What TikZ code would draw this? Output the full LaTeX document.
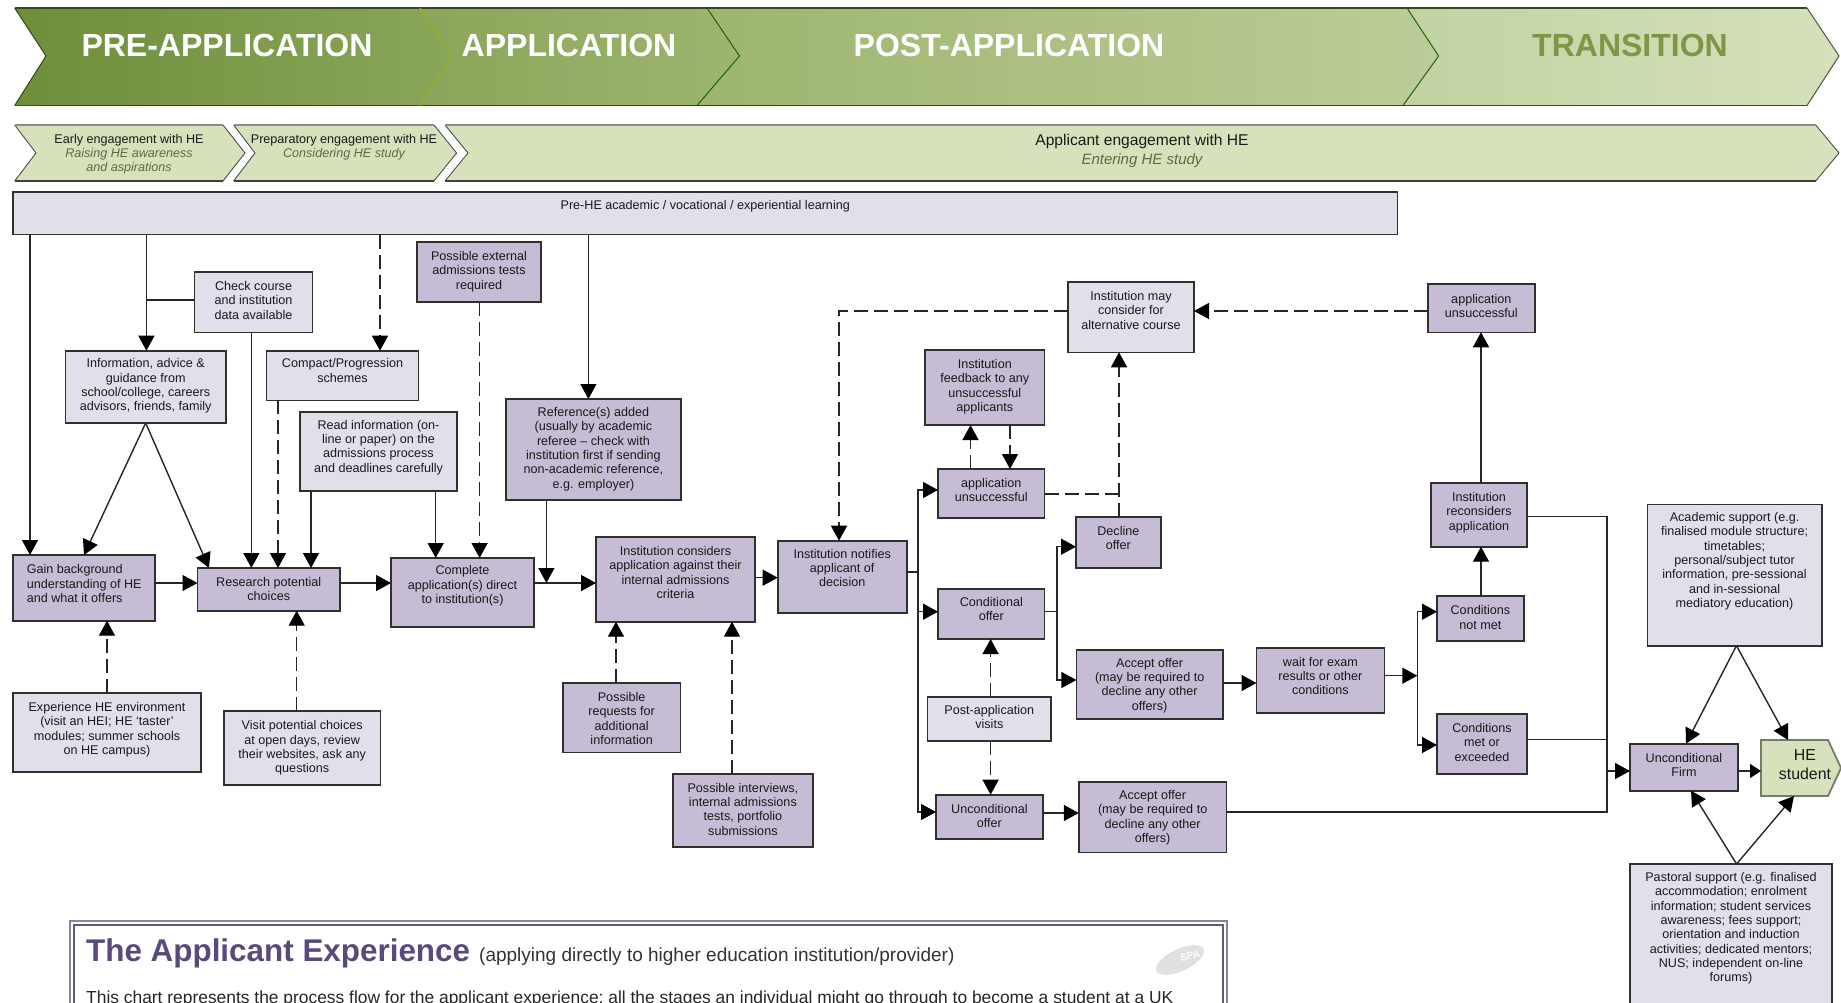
\documentclass[tikz,border=0pt]{standalone}
\usepackage{fontspec}
\setmainfont{Liberation Sans}
\usetikzlibrary{arrows.meta,shapes.geometric}
\definecolor{boxdark}{HTML}{C6BCD6}
\definecolor{boxlight}{HTML}{E2DFEB}
\definecolor{palegreen}{HTML}{D7E2BD}
\definecolor{edge}{HTML}{303030}
\definecolor{titlepurple}{HTML}{5A4A7C}
\definecolor{headgreen}{HTML}{7F9648}
\definecolor{subgreen}{HTML}{5C6B42}
\definecolor{gA}{HTML}{6E8E3A}\definecolor{gB}{HTML}{8AA65A}
\definecolor{gC}{HTML}{9DB56E}\definecolor{gD}{HTML}{BCCC98}
\definecolor{gE}{HTML}{C2D2A2}\definecolor{gF}{HTML}{D5E1BB}
\tikzset{
  x=1pt,y=-1pt,
  boxbase/.style={draw=edge,line width=1.6pt,inner sep=0pt,outer sep=0pt,anchor=north west,text=black!90},
  dk/.style={boxbase,fill=boxdark},
  lt/.style={boxbase,fill=boxlight},
  conn/.style={draw=black!85,line width=1.4pt},
  arr/.style={conn,-{Triangle[length=15pt,width=16pt,color=black]}},
  darr/.style={arr,dash pattern=on 14pt off 6pt},
  dline/.style={conn,dash pattern=on 14pt off 6pt},
  banner/.style={font=\fontsize{32}{34}\selectfont\bfseries,text=white,inner sep=0pt},
  subtxt/.style={font=\fontsize{12.6}{14.3}\selectfont,inner sep=0pt,text=black!90},
  subit/.style={subtxt,font=\fontsize{12.6}{14.3}\selectfont\itshape,text=subgreen},
  chev/.style={fill=palegreen,draw=none},
  chevtop/.style={draw=black!45,line width=1.6pt},
  chevbot/.style={draw=black!75,line width=1.6pt},
  chevside/.style={draw=black!70,line width=0.9pt},
}
\newcommand{\bx}[8]{%
  \pgfmathsetmacro{\bxw}{#5-#3}\pgfmathsetmacro{\bxh}{#6-#4}\pgfmathsetmacro{\bxg}{#7-#4-5.2}%
  \node[#2] (#1) at (#3,#4) {\parbox[c][\bxh pt][t]{\bxw pt}{\fontsize{12.6}{14.3}\selectfont\vspace*{\bxg pt}\centering #8}};}
\begin{document}
\begin{tikzpicture}
\clip (0,0) rectangle (1841,1003);
\fill[white] (0,0) rectangle (1841,1003);
% top banner
\path[left color=gE,right color=gF] (1407,8) -- (1807,8) -- (1839,56) -- (1807,105.5) -- (1403,105.5) -- (1438,56) -- cycle;
\path[left color=gC,right color=gD] (707,8) -- (1407,8) -- (1438.6,56) -- (1403,105.5) -- (697,105.5) -- (739,56) -- cycle;
\path[left color=gB,right color=gC] (420,8) -- (707,8) -- (739.5,56) -- (697,105.5) -- (420,105.5) -- (452,56) -- cycle;
\path[left color=gA,right color=gB] (14.7,8) -- (420,8) -- (452,56) -- (420,105.5) -- (14.7,105.5) -- (46,56) -- cycle;
\draw[chevtop,draw=black!50!gA] (14.7,8) -- (1807,8);
\draw[chevbot] (14.7,105.5) -- (1807,105.5);
\draw[draw=black!50!gA,line width=1pt] (14.7,8) -- (46,56) -- (14.7,105.5);
\draw[draw=black!60!gE,line width=1pt] (1807,8) -- (1839,56) -- (1807,105.5);
\draw[draw=gA!70!yellow,line width=1.2pt] (420,8) -- (452,56) -- (420,105.5);
\draw[draw=green!30!black!70!gA,line width=1pt] (707,8) -- (739.5,56) -- (697,105.5);
\draw[draw=green!30!black!70!gA,line width=1pt] (1407,8) -- (1438.6,56) -- (1403,105.5);
\node[banner] (tpre) at (227,45) {PRE-APPLICATION};
\node[banner] (tapp) at (569,45) {APPLICATION};
\node[banner] (tpost) at (1009,45) {POST-APPLICATION};
\node[banner,text=headgreen] (ttrans) at (1630,45) {TRANSITION};
% second row
\path[chev] (14.7,125) -- (223,125) -- (245,153) -- (223,181) -- (14.7,181) -- (36,153) -- cycle;
\path[chev] (233.6,125) -- (434,125) -- (456.6,153) -- (434,181) -- (233.6,181) -- (255,153) -- cycle;
\path[chev] (445,125) -- (1815.7,125) -- (1839,153) -- (1815.7,181) -- (445,181) -- (468,153) -- cycle;
\foreach \ax/\an/\bx/\bn in {14.7/36/223/245,233.6/255/434/456.6,445/468/1815.7/1839}{
  \draw[chevside] (\ax,125) -- (\an,153) -- (\ax,181);
  \draw[chevside] (\bx,125) -- (\bn,153) -- (\bx,181);
  \draw[chevtop] (\ax,125) -- (\bx,125);
  \draw[chevbot] (\ax,181) -- (\bx,181);
}
\node[subtxt] (e1) at (129,140.3) {Early engagement with HE};
\node[subit] (e2) at (129,154.5) {Raising HE awareness};
\node[subit] (e3) at (129,168.5) {and aspirations};
\node[subtxt] (p1) at (344,140.3) {Preparatory engagement with HE};
\node[subit] (p2) at (344,154.5) {Considering HE study};
\node[subtxt,font=\fontsize{15.6}{18}\selectfont] (a1) at (1142,141.5) {Applicant engagement with HE};
\node[subit,font=\fontsize{15}{18}\selectfont\itshape] (a2) at (1142,160.5) {Entering HE study};
% boxes
\bx{bar}{lt}{13}{192}{1397.5}{234.5}{205.6}{Pre-HE academic / vocational / experiential learning}
\bx{check}{lt}{194.6}{271.7}{312.5}{332.3}{286.7}{Check course\\and institution\\data available}
\bx{info}{lt}{65.4}{350.7}{226}{423}{364}{Information, advice \&\\guidance from\\school/college, careers\\advisors, friends, family}
\bx{compact}{lt}{266.4}{350.7}{418.6}{400.3}{364}{Compact/Progression\\schemes}
\bx{read}{lt}{300}{412}{457}{491}{425.3}{Read information (on-\\line or paper) on the\\admissions process\\and deadlines carefully}
\bx{ext}{dk}{417}{242}{541}{302}{256.7}{Possible external\\admissions tests\\required}
\bx{ref}{dk}{506}{399}{680.8}{500}{412.7}{Reference(s) added\\(usually by academic\\referee – check with\\institution first if sending\\non-academic reference,\\e.g. employer)}
\bx{gain}{dk}{13}{555}{155}{620.7}{570}{\raggedright\leftskip=13.8pt\relax Gain background\\understanding of HE\\and what it offers}
\bx{res}{dk}{197.5}{568}{340}{610.7}{582.7}{Research potential\\choices}
\bx{comp}{dk}{391}{558}{534}{627}{571}{Complete\\application(s) direct\\to institution(s)}
\bx{exper}{lt}{13}{692.7}{201}{772}{707.7}{Experience HE environment\\(visit an HEI; HE ‘taster’\\modules; summer schools\\on HE campus)}
\bx{visit}{lt}{223.8}{711}{380.6}{785}{726}{Visit potential choices\\at open days, review\\their websites, ask any\\questions}
\bx{reqs}{dk}{562.7}{683}{680.6}{752.3}{697.7}{Possible\\requests for\\additional\\information}
\bx{intv}{dk}{673}{773.7}{812.8}{846.7}{788.3}{Possible interviews,\\internal admissions\\tests, portfolio\\submissions}
\bx{cons}{dk}{596}{536.7}{755}{621.7}{551.7}{Institution considers\\application against their\\internal admissions\\criteria}
\bx{noti}{dk}{777.7}{540.7}{906.7}{613}{554.3}{Institution notifies\\applicant of\\decision}
\bx{may}{lt}{1068}{281.7}{1194}{352.3}{296.7}{Institution may\\consider for\\alternative course}
\bx{feed}{dk}{925}{350}{1044.6}{425}{364.7}{Institution\\feedback to any\\unsuccessful\\applicants}
\bx{appu}{dk}{938}{469}{1044.6}{517.7}{483.7}{application\\unsuccessful}
\bx{dec}{dk}{1076}{517}{1160.7}{567.7}{531.7}{Decline\\offer}
\bx{cond}{dk}{938}{589}{1044.6}{639}{602.3}{Conditional\\offer}
\bx{acc}{dk}{1076.4}{649.7}{1222.9}{719}{663.3}{Accept offer\\(may be required to\\decline any other\\offers)}
\bx{wait}{dk}{1256.5}{647.7}{1384.3}{713}{662.3}{wait for exam\\results or other\\conditions}
\bx{nm}{dk}{1437}{596}{1523.8}{641}{611}{Conditions\\not met}
\bx{met}{dk}{1437}{714}{1527}{773.7}{728.7}{Conditions\\met or\\exceeded}
\bx{rec}{dk}{1431}{482.7}{1527}{546.7}{497.7}{Institution\\reconsiders\\application}
\bx{appr}{dk}{1427.7}{284}{1535}{332.3}{299.3}{application\\unsuccessful}
\bx{acad}{lt}{1647.3}{504.3}{1821.8}{645.7}{517.7}{Academic support (e.g.\\finalised module structure;\\timetables;\\personal/subject tutor\\information, pre-sessional\\and in-sessional\\mediatory education)}
\bx{firm}{dk}{1630}{743.7}{1737.8}{790.7}{758.3}{Unconditional\\Firm}
\bx{past}{lt}{1630}{864}{1832}{1020}{877.7}{Pastoral support (e.g. finalised\\accommodation; enrolment\\information; student services\\awareness; fees support;\\orientation and induction\\activities; dedicated mentors;\\NUS; independent on-line\\forums)}
\bx{post}{lt}{927.6}{696.7}{1051}{740.7}{710.7}{Post-application\\visits}
\bx{unc}{dk}{936}{794.7}{1042.8}{838.7}{809.3}{Unconditional\\offer}
\bx{acb}{dk}{1078.8}{782}{1226.5}{852.3}{795.7}{Accept offer\\(may be required to\\decline any other\\offers)}
% HE student
\draw[draw=black!45!palegreen,line width=1.8pt,fill=palegreen] (1761,740) -- (1828,740) -- (1841,768) -- (1828,796) -- (1761,796) -- cycle;
\bx{he}{boxbase,draw=none}{1761}{740}{1849}{796}{755}{\fontsize{15.9}{18.3}\selectfont HE\\student}
% connectors
\draw[arr] (bar.south -| 30,0) -- (gain.north -| 30,0);
\draw[arr] (bar.south -| 146.4,0) -- (info.north -| 146.4,0);
\coordinate (chk) at (146.4,300);
\draw[conn] (check.west |- chk) -- (chk);
\draw[arr] (check.south -| 251.4,0) -- (res.north -| 251.4,0);
\draw[darr] (bar.south -| 380,0) -- (compact.north -| 380,0);
\draw[darr] (compact.south -| 278,0) -- (res.north -| 278,0);
\draw[arr] (read.south -| 311,0) -- (res.north -| 311,0);
\draw[arr] (read.south -| 435.7,0) -- (comp.north -| 435.7,0);
\draw[darr] (ext.south -| 479.6,0) -- (comp.north -| 479.6,0);
\draw[arr] (bar.south -| 588.4,0) -- (ref.north -| 588.4,0);
\draw[arr] (info.south) -- (gain.north -| 84,0);
\draw[arr] (info.south) -- (res.north -| 209,0);
\draw[arr] (gain.east |- 0,583) -- (res.west |- 0,583);
\draw[arr] (res.east |- 0,583) -- (comp.west |- 0,583);
\draw[arr] (comp.east |- 0,583) -- (cons.west |- 0,583);
\coordinate (rj) at (546.4,583);
\draw[arr] (ref.south -| rj) -- (rj);
\draw[arr] (cons.east |- 0,577.7) -- (noti.west |- 0,577.7);
\draw[darr] (exper.north -| 107,0) -- (gain.south -| 107,0);
\draw[darr] (visit.north -| 296.7,0) -- (res.south -| 296.7,0);
\draw[darr] (reqs.north -| 616,0) -- (cons.south -| 616,0);
\draw[darr] (intv.north -| 732,0) -- (cons.south -| 732,0);
% decision trunk
\coordinate (tr) at (918,572);
\draw[conn] (noti.east |- tr) -- (tr);
\draw[arr] (tr) |- (appu.west |- 0,490);
\draw[arr] (tr |- 0,611.7) -- (cond.west |- 0,611.7);
\draw[arr] (tr) |- (unc.west |- 0,812);
\coordinate (tt) at (1057,611.7);
\draw[conn] (cond.east |- tt) -- (tt);
\draw[arr] (tt) |- (dec.west |- 0,546.7);
\draw[arr] (tt) |- (acc.west |- 0,680);
\draw[arr] (acc.east |- 0,683) -- (wait.west |- 0,683);
\coordinate (tw) at (1417.3,675.7);
\draw[arr] (wait.east |- tw) -- (tw);
\draw[arr] (tw) |- (nm.west |- 0,611.7);
\draw[arr] (tw) |- (met.west |- 0,745);
\draw[arr] (nm.north -| 1481,0) -- (rec.south -| 1481,0);
\draw[arr] (rec.north -| 1481,0) -- (appr.south -| 1481,0);
\draw[darr] (appr.west |- 0,311) -- (may.east |- 0,311);
\draw[darr] (may.west |- 0,311) -| (noti.north -| 839,0);
\draw[darr] (appu.north -| 970.5,0) -- (feed.south -| 970.5,0);
\draw[darr] (feed.south -| 1010,0) -- (appu.north -| 1010,0);
\coordinate (dj) at (1119,494);
\draw[dline] (appu.east |- dj) -- (dj);
\draw[darr] (dec.north -| dj) -- (may.south -| dj);
\draw[darr] (post.north -| 990.6,0) -- (cond.south -| 990.6,0);
\draw[darr] (post.south -| 990.6,0) -- (unc.north -| 990.6,0);
\draw[arr] (unc.east |- 0,813) -- (acb.west |- 0,813);
% collector
\coordinate (col) at (1606.8,771);
\draw[conn] (rec.east |- 0,516.7) -| (col);
\draw[conn] (met.east |- 0,739.3) -- (col |- 0,739.3);
\draw[conn] (acb.east |- 0,812) -| (col);
\draw[arr] (col) -- (firm.west |- col);
\draw[conn,-{Triangle[length=11pt,width=14pt,color=black]}] (firm.east |- 0,771) -- (he.west |- 0,771);
\draw[arr] (acad.south -| 1736.4,0) -- (firm.north -| 1686,0);
\draw[arr] (acad.south -| 1736.4,0) -- (he.north -| 1788,0);
\draw[arr] (past.north -| 1736.6,0) -- (firm.south -| 1691,0);
\draw[arr] (past.north -| 1736.6,0) -- (he.south -| 1794,0);
% text panel
\path[fill=white,draw=black!30!boxdark,line width=2.2pt] (70,921) rectangle (1227,1030);
\path[draw=titlepurple!75!gray,line width=1.8pt] (74,925) rectangle (1223,1030);
\node[ellipse,fill=black!12,minimum width=52pt,minimum height=22pt,inner sep=0pt,rotate=25] (logo) at (1180,960) {};
\node[text=white,inner sep=0pt,font=\fontsize{10}{11}\selectfont\bfseries,rotate=10] (logotxt) at (1190,956) {SPA};
\node[anchor=base west,inner sep=0pt,text=titlepurple,font=\fontsize{31.4}{34}\selectfont\bfseries] (ttl) at (86,961) {The Applicant Experience};
\node[anchor=base west,inner sep=0pt,text=black!80,font=\fontsize{19}{20}\selectfont] (ttlsub) at (479,961) {(applying directly to higher education institution/provider)};
\node[anchor=base west,inner sep=0pt,text=black!85,font=\fontsize{17.4}{20}\selectfont] (body) at (86,1003) {This chart represents the process flow for the applicant experience; all the stages an individual might go through to become a student at a UK};
\end{tikzpicture}
\end{document}
